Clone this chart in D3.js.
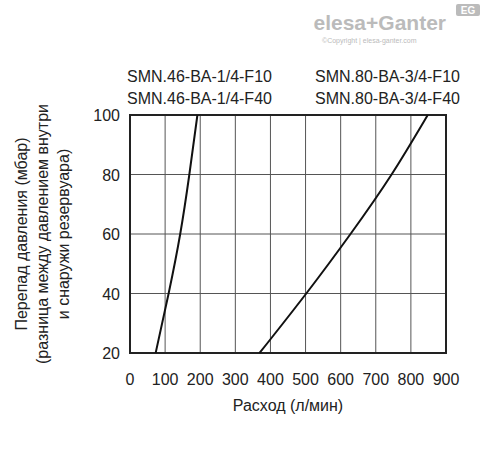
<!DOCTYPE html>
<html><head><meta charset="utf-8">
<script src="https://cdn.jsdelivr.net/npm/d3@7"></script>
<style>body{margin:0;background:#fff}text{font-family:"Liberation Sans",Arial,sans-serif}</style>
</head><body>
<svg id="chart" width="488" height="454"></svg>
<script>
const xTicks = [0, 100, 200, 300, 400, 500, 600, 700, 800, 900];
const yTicks = [20, 40, 60, 80, 100];
const pressure = [20, 40, 60, 80, 100];
const flowSmall = [73, 110, 143, 169, 192];
const flowLarge = [369, 502, 628, 745, 848];

const svg = d3.select('#chart');
const x = d3.scaleLinear().domain([0, 900]).range([130, 446]);
const y = d3.scaleLinear().domain([20, 100]).range([353, 115]);

// grid
svg.selectAll('.vg').data(xTicks).join('line')
    .attr('x1', d => x(d)).attr('x2', d => x(d)).attr('y1', y(20)).attr('y2', y(100))
    .attr('stroke', '#555').attr('stroke-width', 1);
svg.selectAll('.hg').data(yTicks).join('line')
    .attr('y1', d => y(d)).attr('y2', d => y(d)).attr('x1', x(0)).attr('x2', x(900))
    .attr('stroke', '#555').attr('stroke-width', 1);
svg.append('rect').attr('x', x(0)).attr('y', y(100)).attr('width', x(900) - x(0)).attr('height', y(20) - y(100))
    .attr('fill', 'none').attr('stroke', '#222').attr('stroke-width', 2);

// tick labels
svg.selectAll('.xl').data(xTicks).join('text')
    .attr('x', d => x(d)).attr('y', 385).attr('text-anchor', 'middle')
    .attr('font-size', 16).attr('fill', '#222').text(d => d);
svg.selectAll('.yl').data(yTicks).join('text')
    .attr('x', 120).attr('y', d => y(d) + 6).attr('text-anchor', 'end')
    .attr('font-size', 16).attr('fill', '#222').text(d => d);

// curves
const line = d3.line().x(d => x(d[0])).y(d => y(d[1])).curve(d3.curveNatural);
[flowSmall, flowLarge].forEach(f => {
    svg.append('path').datum(f.map((v, i) => [v, pressure[i]]))
        .attr('d', line).attr('fill', 'none').attr('stroke', '#111').attr('stroke-width', 2);
});

// labels
const lab = [['SMN.46-BA-1/4-F10', 127, 82], ['SMN.46-BA-1/4-F40', 127, 104],
             ['SMN.80-BA-3/4-F10', 315, 82], ['SMN.80-BA-3/4-F40', 315, 104]];
svg.selectAll('.lab').data(lab).join('text')
    .attr('x', d => d[1]).attr('y', d => d[2]).attr('font-size', 16).attr('fill', '#222').text(d => d[0]);

svg.append('text').attr('x', x(450)).attr('y', 411).attr('text-anchor', 'middle')
    .attr('font-size', 16).attr('fill', '#222').text('Расход (л/мин)');
const yt = ['Перепад давления (мбар)', '(разница между давлением внутри', 'и снаружи резервуара)'];
svg.selectAll('.yt').data(yt).join('text')
    .attr('transform', (d, i) => `translate(${27 + i * 21},234) rotate(-90)`)
    .attr('text-anchor', 'middle').attr('font-size', 16).attr('fill', '#222').text(d => d);

// logo
svg.append('text').attr('x', 446).attr('y', 30).attr('text-anchor', 'end')
    .attr('font-size', 21).attr('font-weight', 'bold').attr('fill', '#bbb').text('elesa+Ganter');
svg.append('text').attr('x', 322).attr('y', 43).attr('font-size', 7).attr('fill', '#bbb')
    .text('©Copyright | elesa-ganter.com');
svg.append('rect').attr('x', 456).attr('y', 4).attr('width', 24).attr('height', 12).attr('rx', 2).attr('fill', '#bbb');
svg.append('text').attr('x', 468).attr('y', 14).attr('text-anchor', 'middle').attr('font-size', 10)
    .attr('font-weight', 'bold').attr('fill', '#fff').text('EG');
</script>
</body></html>
